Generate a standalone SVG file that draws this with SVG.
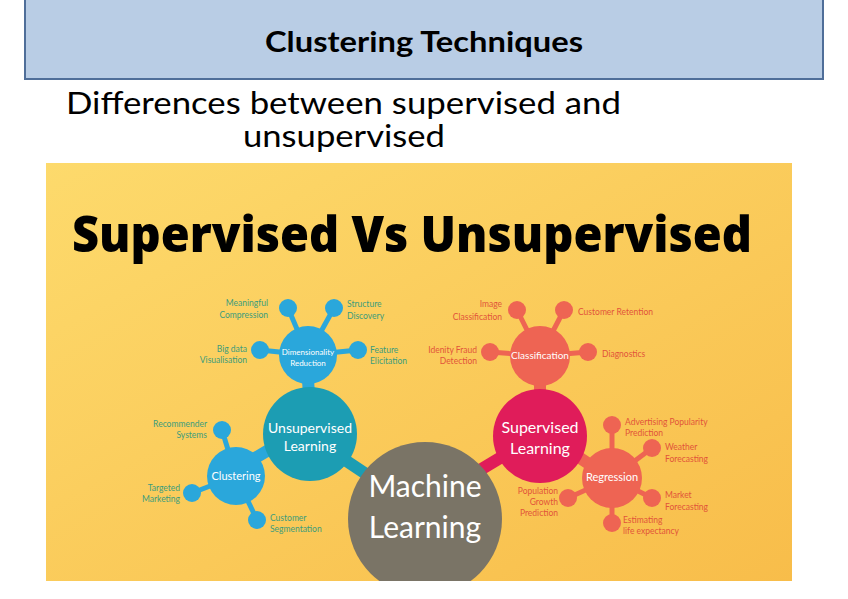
<svg xmlns="http://www.w3.org/2000/svg" width="848" height="599" viewBox="0 0 848 599">
<defs>
<linearGradient id="bg" x1="0" y1="0" x2="1" y2="1">
<stop offset="0" stop-color="#FDDA6C"/>
<stop offset="1" stop-color="#F8BD4A"/>
</linearGradient>
<clipPath id="clip"><rect x="46" y="163" width="746" height="418"/></clipPath>
</defs>
<style>
.hdr{font-family:"Lato","Open Sans",sans-serif;font-weight:bold;font-size:29px;fill:#000}
.sub{font-family:"Lato","Open Sans",sans-serif;font-size:30px;fill:#000}
.big{font-family:"Open Sans","Liberation Sans",sans-serif;font-weight:800;font-size:50px;fill:#000}
.w{font-family:"Lato","Open Sans",sans-serif;fill:#fff;text-anchor:middle}
.lb{font-family:"Lato","Open Sans",sans-serif;font-size:8.5px}
.g{fill:#3C9C7C}
.o{fill:#E2543A}
.blue{fill:#2AA7DB}
.coral{fill:#EE6453}
.sb{stroke:#2AA7DB;stroke-width:5}
.sc{stroke:#EE6453;stroke-width:5}
.r{text-anchor:end}
</style>
<rect x="0" y="0" width="848" height="599" fill="#fff"/>
<g id="title">
<rect x="25" y="-2" width="798" height="81" fill="#B9CDE5" stroke="#4F6E99" stroke-width="2"/>
<text class="hdr" x="424" y="52" text-anchor="middle" textLength="318" lengthAdjust="spacingAndGlyphs">Clustering Techniques</text>
</g>
<g id="subtitle">
<text class="sub" x="66" y="114" textLength="555" lengthAdjust="spacingAndGlyphs">Differences between supervised and</text>
<text class="sub" x="243" y="147" textLength="202" lengthAdjust="spacingAndGlyphs">unsupervised</text>
</g>
<g id="picture" clip-path="url(#clip)">
<rect x="46" y="163" width="746" height="418" fill="url(#bg)"/>
<text class="big" x="72" y="252" textLength="680" lengthAdjust="spacingAndGlyphs">Supervised Vs Unsupervised</text>
<g id="connectors">
<line x1="308" y1="380" x2="309" y2="395" stroke="#2AA7DB" stroke-width="12"/>
<line x1="540" y1="380" x2="540" y2="395" stroke="#EE6453" stroke-width="12"/>
<line x1="255" y1="458" x2="272" y2="448" stroke="#2AA7DB" stroke-width="12"/>
<line x1="580" y1="458" x2="592" y2="466" stroke="#EE6453" stroke-width="12"/>
<line x1="345" y1="460" x2="372" y2="478" stroke="#1C9DB3" stroke-width="12"/>
<line x1="500" y1="458" x2="480" y2="470" stroke="#E01C5A" stroke-width="12"/>
<line x1="425" y1="575" x2="425" y2="590" stroke="#EE6453" stroke-width="8"/>
<line class="sb" x1="308" y1="355" x2="288" y2="308"/>
<line class="sb" x1="308" y1="355" x2="334" y2="308"/>
<line class="sb" x1="308" y1="355" x2="260" y2="350"/>
<line class="sb" x1="308" y1="355" x2="358" y2="350"/>
<line class="sc" x1="540" y1="356" x2="517" y2="310"/>
<line class="sc" x1="540" y1="356" x2="564" y2="310"/>
<line class="sc" x1="540" y1="356" x2="490" y2="352"/>
<line class="sc" x1="540" y1="356" x2="588" y2="352"/>
<line class="sb" x1="236" y1="476" x2="222" y2="430"/>
<line class="sb" x1="236" y1="476" x2="192" y2="493"/>
<line class="sb" x1="236" y1="476" x2="257" y2="520"/>
<line class="sc" x1="612" y1="478" x2="612" y2="425"/>
<line class="sc" x1="612" y1="478" x2="652" y2="448"/>
<line class="sc" x1="612" y1="478" x2="652" y2="498"/>
<line class="sc" x1="612" y1="478" x2="612" y2="523"/>
<line class="sc" x1="612" y1="478" x2="568" y2="498"/>
</g>
<g id="dim">
<circle cx="308" cy="355" r="29" class="blue"/>
<circle cx="288" cy="308" r="9" class="blue"/>
<circle cx="334" cy="308" r="9" class="blue"/>
<circle cx="260" cy="350" r="9" class="blue"/>
<circle cx="358" cy="350" r="9" class="blue"/>
<text class="w" x="308" y="355" font-size="8">Dimensionality</text>
<text class="w" x="308" y="366" font-size="8">Reduction</text>
<text class="lb g r" x="268" y="306">Meaningful</text>
<text class="lb g r" x="268" y="318">Compression</text>
<text class="lb g" x="347" y="307">Structure</text>
<text class="lb g" x="347" y="319">Discovery</text>
<text class="lb g r" x="247" y="352">Big data</text>
<text class="lb g r" x="247" y="363">Visualisation</text>
<text class="lb g" x="370" y="353">Feature</text>
<text class="lb g" x="370" y="364">Elicitation</text>
</g>
<g id="classification">
<circle cx="540" cy="356" r="30" class="coral"/>
<circle cx="517" cy="310" r="9" class="coral"/>
<circle cx="564" cy="310" r="9" class="coral"/>
<circle cx="490" cy="352" r="9" class="coral"/>
<circle cx="588" cy="352" r="9" class="coral"/>
<text class="w" x="540" y="359" font-size="10">Classification</text>
<text class="lb o r" x="502" y="307">Image</text>
<text class="lb o r" x="502" y="320">Classification</text>
<text class="lb o" x="578" y="315">Customer Retention</text>
<text class="lb o r" x="477" y="353">Idenity Fraud</text>
<text class="lb o r" x="477" y="364">Detection</text>
<text class="lb o" x="602" y="357">Diagnostics</text>
</g>
<g id="clustering">
<circle cx="236" cy="476" r="29" class="blue"/>
<circle cx="222" cy="430" r="9" class="blue"/>
<circle cx="192" cy="493" r="9" class="blue"/>
<circle cx="257" cy="520" r="9" class="blue"/>
<text class="w" x="236" y="480" font-size="11">Clustering</text>
<text class="lb g r" x="207" y="427">Recommender</text>
<text class="lb g r" x="207" y="438">Systems</text>
<text class="lb g r" x="180" y="491">Targeted</text>
<text class="lb g r" x="180" y="502">Marketing</text>
<text class="lb g" x="270" y="521">Customer</text>
<text class="lb g" x="270" y="532">Segmentation</text>
</g>
<g id="regression">
<circle cx="612" cy="478" r="30" class="coral"/>
<circle cx="612" cy="425" r="9" class="coral"/>
<circle cx="652" cy="448" r="9" class="coral"/>
<circle cx="652" cy="498" r="9" class="coral"/>
<circle cx="612" cy="523" r="9" class="coral"/>
<circle cx="568" cy="498" r="9" class="coral"/>
<text class="w" x="612" y="481" font-size="11">Regression</text>
<text class="lb o" x="625" y="425">Advertising Popularity</text>
<text class="lb o" x="625" y="436">Prediction</text>
<text class="lb o" x="665" y="450">Weather</text>
<text class="lb o" x="665" y="462">Forecasting</text>
<text class="lb o" x="665" y="498">Market</text>
<text class="lb o" x="665" y="510">Forecasting</text>
<text class="lb o" x="623" y="523">Estimating</text>
<text class="lb o" x="623" y="534">life expectancy</text>
<text class="lb o r" x="558" y="494">Population</text>
<text class="lb o r" x="558" y="505">Growth</text>
<text class="lb o r" x="558" y="516">Prediction</text>
</g>
<g id="unsupervised">
<circle cx="310" cy="434" r="47" fill="#1C9DB3"/>
<text class="w" x="310" y="433" font-size="14">Unsupervised</text>
<text class="w" x="310" y="451" font-size="14">Learning</text>
</g>
<g id="supervised">
<circle cx="540" cy="436" r="47" fill="#E01C5A"/>
<text class="w" x="540" y="433" font-size="16">Supervised</text>
<text class="w" x="540" y="454" font-size="16">Learning</text>
</g>
<g id="ml">
<circle cx="425" cy="519" r="77" fill="#7A7466"/>
<text class="w" x="425" y="497" font-size="30">Machine</text>
<text class="w" x="425" y="538" font-size="30">Learning</text>
</g>
</g>
</svg>
